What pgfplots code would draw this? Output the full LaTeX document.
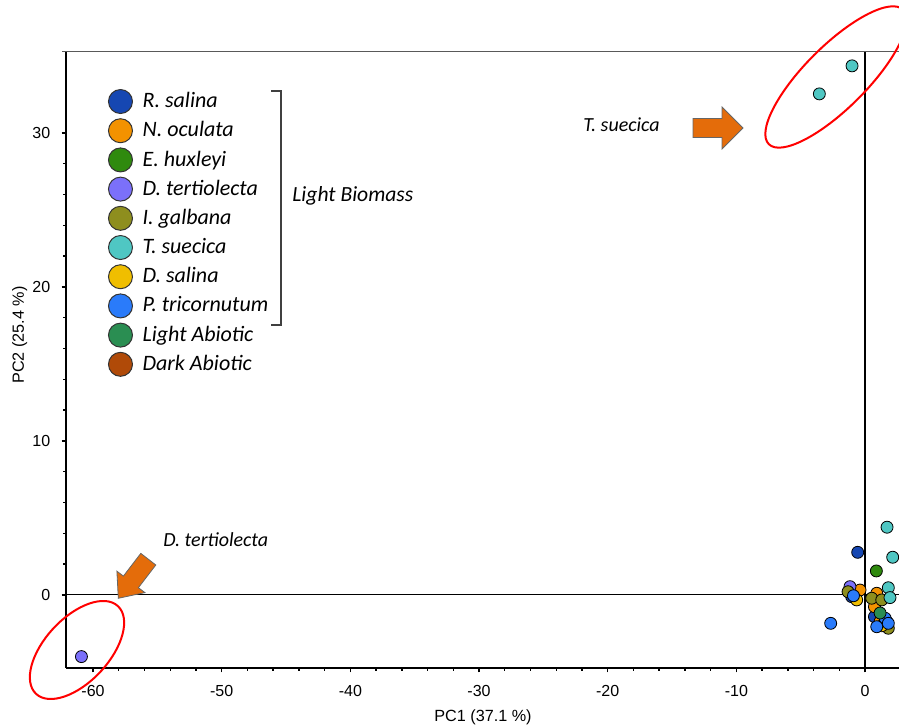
\documentclass[border=0pt]{standalone}
\usepackage{pgfplots}
\pgfplotsset{compat=1.18}
\usepackage{fontspec}
\setmainfont{Liberation Sans}
\newfontfamily\carlito{Carlito}
\definecolor{rsalina}{RGB}{22,71,178}
\definecolor{noculata}{RGB}{243,146,0}
\definecolor{ehuxleyi}{RGB}{47,138,14}
\definecolor{dtert}{RGB}{123,112,250}
\definecolor{igalbana}{RGB}{142,142,30}
\definecolor{tsuecica}{RGB}{79,199,195}
\definecolor{dsalina}{RGB}{240,190,0}
\definecolor{ptri}{RGB}{42,123,250}
\definecolor{lightab}{RGB}{42,142,82}
\definecolor{darkab}{RGB}{176,74,8}
\definecolor{arroworange}{RGB}{228,108,10}
\newcommand{\itfont}{\carlito\itshape\fontsize{11}{12}\selectfont}
\newcommand{\annfont}{\carlito\itshape\fontsize{10}{12}\selectfont}
\pgfplotsset{pt/.style={only marks, mark=*, mark size=3pt,
  mark options={fill=#1,draw=black,line width=0.4pt},
  legend image code/.code={\draw[fill=#1,draw=black!80,line width=0.5pt] (6pt,0pt) circle (6pt);}}}
\begin{document}
\begin{tikzpicture}
\path[use as bounding box] (-33pt,-29pt) rectangle (416.5pt,334pt);
\begin{axis}[
  scale only axis, width=416.5pt, height=308pt,
  xmin=-62.1, xmax=2.64, ymin=-4.74, ymax=35.25,
  axis lines*=left,
  axis line style={line width=1pt},
  xtick={-60,-50,-40,-30,-20,-10,0},
  xticklabels={-60,-50,-40,-30,-20,-10,0},
  ytick={0,10,20,30},
  yticklabels={0,10,20,30},
  minor x tick num=4, minor y tick num=4,
  tick align=outside,
  major tick length=2.2pt, minor tick length=1.3pt,
  every tick/.style={black, line width=0.7pt},
  tick label style={font=\fontsize{8}{9}\selectfont},
  xticklabel style={anchor=north, inner sep=0pt, yshift=-6.5pt},
  yticklabel style={anchor=east, inner sep=0pt, xshift=-5.5pt},
  xlabel={PC1 (37.1 \%)},
  ylabel={PC2 (25.4 \%)},
  label style={font=\fontsize{8.1}{9}\selectfont},
  xlabel style={at={(axis description cs:0.5006,-0.0795)}, anchor=center},
  ylabel style={at={(axis description cs:-0.0555,0.5406)}, anchor=center},
  legend style={draw=none, fill=none, at={(axis description cs:0.0504,0.9399)}, anchor=north west,
    inner sep=0pt, outer sep=0pt, row sep=2.1pt, column sep=0pt,
    font=\itfont, nodes={inner sep=0pt},
    /tikz/every odd column/.append style={column sep=4.8pt}},
  legend cell align=left,
]
\addplot[black, line width=0.5pt, forget plot] coordinates {(-62.1,0) (2.64,0)};
\addplot[black, line width=1pt, forget plot] coordinates {(0,-4.74) (0,35.25)};
\addplot[pt=rsalina] coordinates {(-0.57,2.77) (-1.04,-0.11) (0.73,-1.41) (1.69,-1.73)};
\addlegendentry{R. salina}
\addplot[pt=noculata] coordinates {(-0.39,0.32) (0.91,0.11) (0.73,-0.76) (1.17,-1.73)};
\addlegendentry{N. oculata}
\addplot[pt=ehuxleyi] coordinates {(0.88,1.56)};
\addlegendentry{E. huxleyi}
\addplot[pt=dtert] coordinates {(-60.9,-4.0) (-1.17,0.54)};
\addlegendentry{D. tertiolecta}
\addplot[pt=igalbana] coordinates {(-1.32,0.21) (0.52,-0.21) (1.3,-0.32) (1.81,-2.16)};
\addlegendentry{I. galbana}
\addplot[pt=tsuecica] coordinates {(-3.55,32.53) (-1.01,34.35) (1.71,4.4) (2.15,2.45) (1.81,0.47) (1.94,-0.17)};
\addlegendentry{T. suecica}
\addplot[pt=dsalina] coordinates {(-0.65,-0.32) (1.3,-2.0)};
\addlegendentry{D. salina}
\addplot[pt=ptri] coordinates {(-2.67,-1.84) (-0.9,-0.05) (1.56,-1.51) (1.81,-1.84) (0.91,-2.06)};
\addlegendentry{P. tricornutum}
\addplot[pt=lightab] coordinates {(1.17,-1.17)};
\addlegendentry{Light Abiotic}
\addlegendimage{pt=darkab}
\addlegendentry{Dark Abiotic}
\end{axis}
\begin{scope}[x=0.5pt,y=-0.5pt,shift={(-33pt,334pt)}]
  \draw[black!65, line width=0.5pt] (62,52) -- (899,52);
  \draw[red, line width=1pt, rotate around={45:(836,77)}] (836,77) ellipse [x radius=47.5pt, y radius=15.5pt];
  \draw[red, line width=1pt, rotate around={47:(77,650)}] (77,650) ellipse [x radius=30pt, y radius=16pt];
  \draw[fill=arroworange, draw=black!60, line width=0.4pt]
    (693,118.5) -- (722,118.5) -- (722,107) -- (743,128) -- (722,149) -- (722,137.5) -- (693,137.5) -- cycle;
  \draw[fill=arroworange, draw=black!60, line width=0.4pt]
    (155.8,565.0) -- (138.4,587.7) -- (144.9,592.6) -- (118.3,598.3) -- (116.9,571.2) -- (123.4,576.1) -- (140.8,553.4) -- cycle;
  \draw[black!75, line width=0.7pt] (271,91) -- (281,91) -- (281,325) -- (271,325);
  \node[anchor=base west, inner sep=0pt, font=\carlito\itshape\fontsize{10.8}{12}\selectfont] at (292,202) {Light Biomass};
  \node[anchor=base west, inner sep=0pt, font=\annfont] at (583,132) {T. suecica};
  \node[anchor=base west, inner sep=0pt, font=\annfont] at (163,547) {D. tertiolecta};
\end{scope}
\end{tikzpicture}
\end{document}
